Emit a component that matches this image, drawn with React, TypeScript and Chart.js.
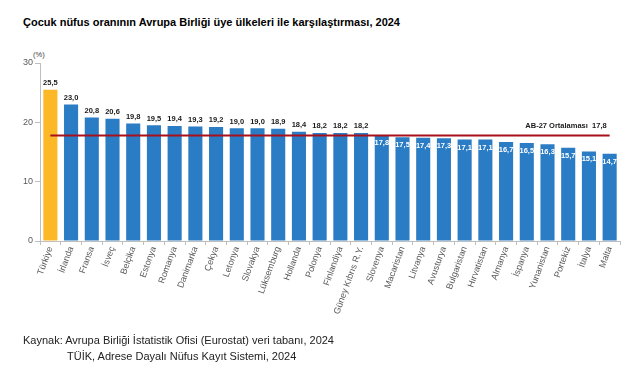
import React, { useEffect, useRef } from "react";
import { Chart, registerables } from "chart.js";

Chart.register(...registerables);

const categories = [
  "Türkiye", "İrlanda", "Fransa", "İsveç", "Belçika", "Estonya", "Romanya", "Danimarka",
  "Çekya", "Letonya", "Slovakya", "Lüksemburg", "Hollanda", "Polonya", "Finlandiya",
  "Güney Kıbrıs R.Y.", "Slovenya", "Macaristan", "Litvanya", "Avusturya", "Bulgaristan",
  "Hırvatistan", "Almanya", "İspanya", "Yunanistan", "Portekiz", "İtalya", "Malta",
];
const values = [
  25.5, 23.0, 20.8, 20.6, 19.8, 19.5, 19.4, 19.3, 19.2, 19.0, 19.0, 18.9, 18.4, 18.2,
  18.2, 18.2, 17.8, 17.5, 17.4, 17.3, 17.1, 17.1, 16.7, 16.5, 16.3, 15.7, 15.1, 14.7,
];
const euAverage = 17.8;
const averageLabel = "AB-27 Ortalaması";
const yTicks = [0, 10, 20, 30];
const highlight = "Türkiye";

const BLUE = "#2A7CC4";
const ORANGE = "#FDB827";
const RED = "#A8101C";

const fmt = (v: number) => v.toFixed(1).replace(".", ",");

const labelsPlugin = {
  id: "barLabels",
  afterDatasetsDraw(chart: any) {
    const ctx = chart.ctx;
    const meta = chart.getDatasetMeta(0);
    ctx.save();
    ctx.font = "bold 7.5px Arial, 'Liberation Sans', sans-serif";
    ctx.textAlign = "center";
    meta.data.forEach((bar: any, i: number) => {
      const v = values[i];
      if (v > euAverage) {
        ctx.fillStyle = "#1a1a1a";
        ctx.textBaseline = "bottom";
        ctx.fillText(fmt(v), bar.x, bar.y - 3);
      } else {
        ctx.fillStyle = "#ffffff";
        ctx.textBaseline = "middle";
        ctx.fillText(fmt(v), bar.x, bar.y + 8);
      }
    });
    const lineMeta = chart.getDatasetMeta(1);
    const last = lineMeta.data[lineMeta.data.length - 1];
    ctx.fillStyle = "#1a1a1a";
    ctx.font = "bold 7.5px Arial, 'Liberation Sans', sans-serif";
    ctx.textAlign = "right";
    ctx.textBaseline = "middle";
    ctx.fillText(averageLabel + "  " + fmt(euAverage), last.x - 3, last.y - 9);
    ctx.restore();
  },
};

export default function App() {
  const ref = useRef<HTMLCanvasElement | null>(null);
  useEffect(() => {
    if (!ref.current) return;
    const chart = new Chart(ref.current, {
      type: "bar",
      data: {
        labels: categories,
        datasets: [
          {
            type: "bar",
            data: values,
            backgroundColor: categories.map((c) => (c === highlight ? ORANGE : BLUE)),
            barPercentage: 0.68,
            categoryPercentage: 1,
            order: 2,
          },
          {
            type: "line",
            data: categories.map(() => euAverage),
            borderColor: RED,
            borderWidth: 2,
            pointRadius: 0,
            fill: false,
            order: 1,
          } as any,
        ],
      },
      options: {
        animation: false,
        responsive: false,
        maintainAspectRatio: false,
        layout: { padding: { top: 63, right: 21, left: 0, bottom: 0 } },
        plugins: {
          legend: { display: false },
          tooltip: { enabled: false },
          title: { display: false },
        },
        scales: {
          x: {
            offset: true,
            grid: { drawOnChartArea: false, offset: true, color: "#bfbfbf", tickLength: 4 },
            border: { color: "#bfbfbf" },
            ticks: {
              autoSkip: false,
              maxRotation: 70,
              minRotation: 70,
              color: "#595959",
              padding: 0,
              font: { family: "Arial, 'Liberation Sans', sans-serif", size: 9 },
            },
            afterFit: (s: any) => {
              s.height = 139;
            },
          },
          y: {
            min: 0,
            max: 30,
            afterBuildTicks: (s: any) => {
              s.ticks = yTicks.map((v) => ({ value: v }));
            },
            grid: { drawOnChartArea: false, color: "#bfbfbf", tickLength: 5 },
            border: { color: "#bfbfbf" },
            ticks: {
              color: "#595959",
              padding: 2,
              font: { family: "Arial, 'Liberation Sans', sans-serif", size: 9 },
            },
            afterFit: (s: any) => {
              s.width = 40;
            },
          },
        },
      },
      plugins: [labelsPlugin],
    });
    return () => chart.destroy();
  }, []);

  const font = "Arial, 'Liberation Sans', sans-serif";
  return (
    <div style={{ position: "fixed", left: 0, top: 0, width: 641, height: 380, background: "#fff", fontFamily: font }}>
      <div style={{ position: "absolute", left: 23, top: 15, fontSize: 11, fontWeight: "bold", color: "#000", whiteSpace: "nowrap", lineHeight: "14px" }}>
        Çocuk nüfus oranının Avrupa Birliği üye ülkeleri ile karşılaştırması, 2024
      </div>
      <div style={{ position: "absolute", left: 33, top: 50, fontSize: 7.5, color: "#404040" }}>(%)</div>
      <canvas ref={ref} width={641} height={380} style={{ position: "absolute", left: 0, top: 0 }} />
      <div style={{ position: "absolute", left: 23, top: 332, fontSize: 11, color: "#222", whiteSpace: "nowrap", lineHeight: "16px" }}>
        Kaynak: Avrupa Birliği İstatistik Ofisi (Eurostat) veri tabanı, 2024
      </div>
      <div style={{ position: "absolute", left: 67, top: 348, fontSize: 11, color: "#222", whiteSpace: "nowrap", lineHeight: "16px" }}>
        TÜİK, Adrese Dayalı Nüfus Kayıt Sistemi, 2024
      </div>
    </div>
  );
}
